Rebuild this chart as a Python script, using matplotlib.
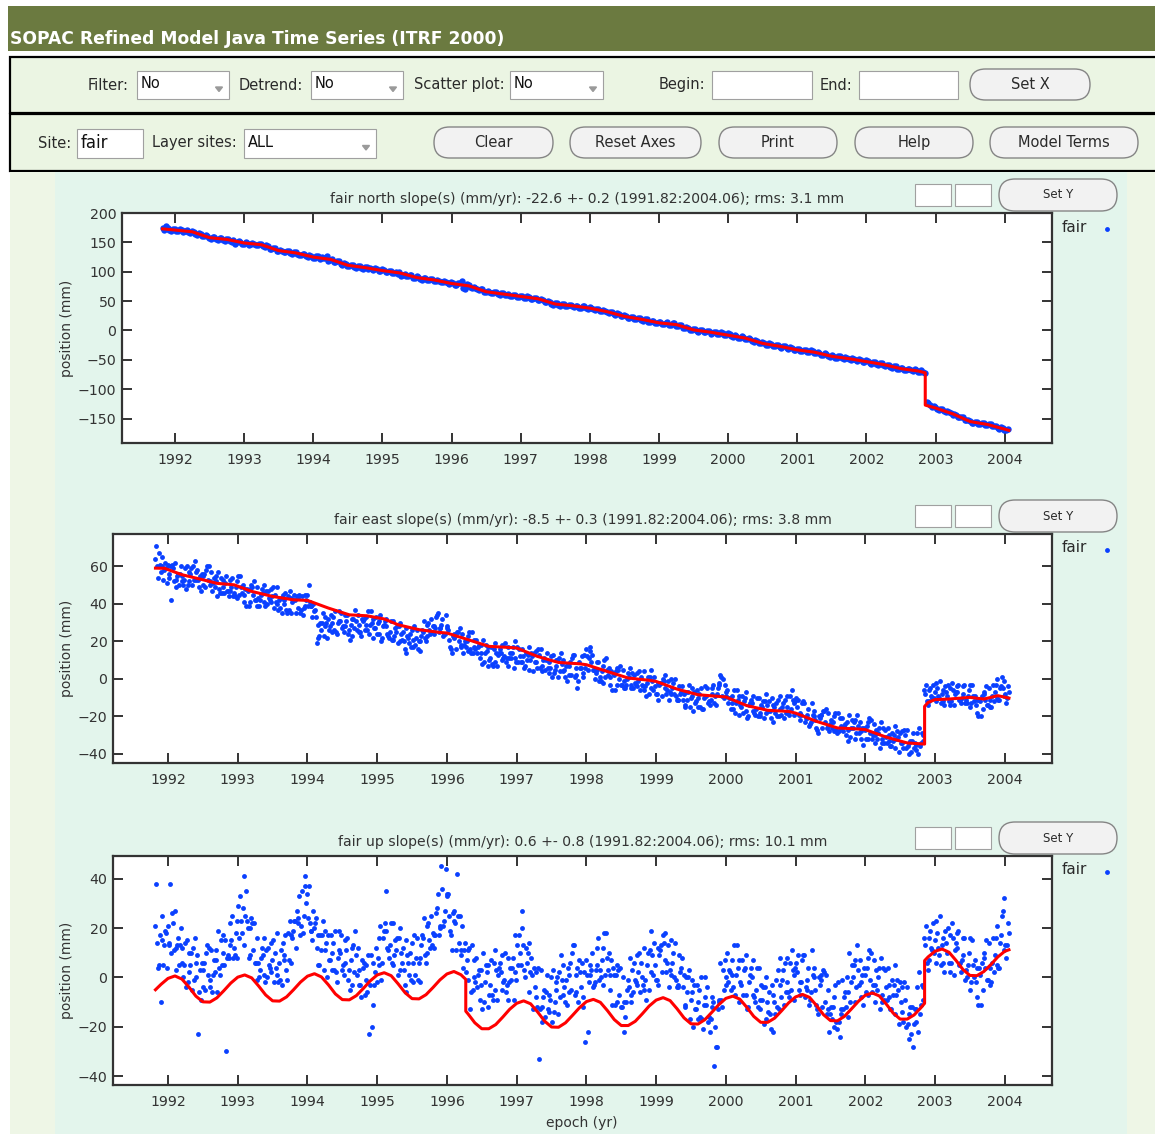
# SOPAC refined model time series for site "fair" (north / east / up)

import numpy as np
import matplotlib.pyplot as plt
from matplotlib.patches import Rectangle, FancyBboxPatch, Polygon

plt.rcParams['font.family'] = ['DejaVu Sans']

# -----------------------------
# Data
# -----------------------------

years = [1992, 1993, 1994, 1995, 1996, 1997, 1998, 1999, 2000, 2001, 2002, 2003, 2004]

# positions (mm), one value every 0.05 yr starting 1991.82 (each row = one year)
north_a = [
    175, 178, 171, 173, 170, 172, 168, 171, 166, 168, 163, 165, 160, 161, 156, 159, 154, 157, 153, 156,
    150, 148, 152, 148, 150, 146, 149, 145, 148, 144, 145, 139, 141, 135, 137, 133, 136, 132, 134, 130,
    128, 130, 125, 127, 123, 126, 125, 124, 118, 121, 116, 118, 112, 114, 109, 111, 107, 110, 105, 108,
    107, 103, 105, 101, 103, 99, 102, 98, 97, 93, 96, 92, 94, 89, 91, 86, 89, 86, 88, 84,
    85, 82, 83, 79, 81, 78, 80, 72, 79, 74, 74, 70, 71, 66, 67, 63, 66, 62, 64, 60,
    62, 59, 60, 57, 59, 55, 57, 54, 56, 52, 52, 48, 49, 44, 46, 42, 45, 41, 43, 40,
    42, 39, 41, 37, 39, 35, 36, 33, 34, 30, 31, 27, 28, 24, 25, 21, 23, 19, 21, 17,
    19, 15, 16, 12, 15, 11, 14, 10, 12, 8, 9, 4, 5, 1, 2, -3, 0, -3, -1, -5,
    -3, -6, -4, -8, -6, -11, -9, -13, -11, -15, -14, -19, -18, -22, -21, -25, -23, -27, -25, -29,
    -27, -31, -29, -34, -32, -35, -33, -37, -35, -39, -38, -42, -40, -45, -43, -46, -44, -48, -46, -50,
    -48, -52, -50, -54, -52, -57, -54, -58, -56, -60, -59, -63, -61, -66, -64, -67, -65, -69, -67, -71,
    -70, -121, -127, -129, -133, -133, -137, -137, -141, -142, -147, -147, -152, -152, -157, -155, -159, -157, -161, -159,
    -163, -162, -167, -166, -170,
]
north_b = [
    171, 174, 170, 172, 169, 171, 170, 167, 169, 165, 166, 161, 162, 157, 159, 155, 158, 154, 156, 152,
    154, 150, 151, 147, 149, 147, 148, 145, 147, 142, 143, 138, 140, 135, 136, 133, 135, 131, 133, 129,
    131, 126, 128, 124, 126, 122, 124, 127, 120, 117, 119, 113, 115, 110, 112, 108, 110, 106, 108, 104,
    104, 106, 102, 104, 100, 102, 98, 100, 99, 95, 93, 95, 90, 92, 88, 90, 86, 88, 85, 86,
    82, 84, 80, 82, 78, 80, 84, 70, 77, 72, 73, 69, 70, 65, 66, 63, 65, 61, 63, 60,
    59, 61, 57, 59, 56, 58, 54, 56, 52, 53, 49, 50, 45, 47, 43, 45, 42, 44, 41, 42,
    39, 41, 38, 40, 36, 37, 33, 35, 31, 32, 28, 29, 25, 26, 22, 23, 20, 21, 18, 19,
    15, 17, 13, 15, 11, 13, 10, 12, 8, 10, 5, 6, 1, 3, -1, 1, -3, -1, -6, -2,
    -6, -2, -8, -5, -10, -8, -12, -10, -14, -13, -18, -16, -21, -20, -24, -22, -26, -24, -28, -27,
    -30, -28, -33, -31, -35, -33, -36, -34, -38, -37, -41, -39, -44, -42, -46, -44, -47, -45, -49, -47,
    -51, -49, -53, -51, -55, -53, -57, -55, -59, -58, -62, -60, -65, -63, -67, -65, -68, -66, -70, -68,
    -73, -124, -131, -130, -135, -134, -139, -138, -143, -143, -148, -148, -153, -154, -157, -155, -159, -158, -161, -160,
    -162, -166, -165, -169, -168,
]

east_1 = [
    64, 67, 65, 59, 54, 59, 49, 56, 50, 60, 56, 53, 58, 47, 56, 53, 57, 49, 57, 46,
    51, 44, 54, 49, 45, 50, 39, 48, 45, 49, 42, 50, 40, 48, 38, 49, 43, 40, 44, 35,
    42, 38, 44, 39, 50, 33, 33, 23, 35, 30, 28, 33, 24, 31, 25, 34, 29, 27, 34, 23,
    26, 36, 30, 27, 31, 22, 28, 22, 31, 25, 20, 25, 14, 24, 21, 26, 20, 31, 23, 32,
    24, 35, 29, 24, 26, 14, 23, 20, 24, 17, 25, 14, 21, 11, 21, 15, 11, 16, 7, 14,
    12, 17, 11, 20, 9, 16, 7, 17, 12, 9, 13, 4, 10, 3, 13, 7, 4, 10, -1, 9,
    13, -5, 6, 13, 5, 9, 0, 9, 4, 1, 6, -6, 4, 0, 5, -3, 6, -5, 3, -6,
    4, -2, -5, 1, -11, -2, -5, -1, -8, 0, -11, -4, -14, -3, -9, -12, -8, -16, -9, -14,
    -3, -8, 2, -10, -6, -16, -6, -11, -15, -10, -20, -13, -19, -10, -15, -18, -12, -23, -13, -16,
    -13, -15, -9, -19, -15, -22, -13, -19, -23, -17, -29, -19, -23, -18, -26, -18, -28, -21, -30, -19,
    -26, -29, -23, -35, -25, -29, -24, -32, -23, -34, -26, -36, -25, -31, -34, -30, -40, -33, -38, -26,
    -33, -3, -12, -3, -12, -1, -6, -9, -5, -14, -7, -13, -3, -9, -13, -9, -20, -9, -11, -5,
    -9, -3, -11, -5, -13,
]
east_2 = [
    71, 61, 53, 51, 60, 52, 55, 60, 53, 50, 59, 63, 53, 56, 49, 60, 47, 52, 48, 53,
    55, 47, 44, 52, 55, 45, 48, 41, 52, 39, 45, 41, 47, 41, 45, 37, 35, 46, 37, 41,
    35, 45, 34, 42, 41, 40, 19, 30, 23, 22, 34, 26, 30, 35, 28, 24, 32, 37, 29, 32,
    33, 24, 22, 33, 24, 28, 32, 25, 21, 28, 30, 20, 23, 17, 28, 16, 23, 22, 30, 25,
    27, 25, 32, 34, 21, 23, 16, 27, 14, 20, 16, 21, 14, 18, 9, 7, 17, 9, 13, 18,
    19, 7, 14, 11, 16, 9, 14, 5, 4, 15, 6, 10, 14, 6, 3, 10, 14, 5, 8, 2,
    1, -1, 12, 6, 11, 13, 3, -1, 7, 11, 1, 3, -3, 7, -5, 0, -3, 2, -4, 1,
    -6, 1, 5, -4, -2, -9, 2, -11, -5, -9, -4, -11, -7, -15, -17, -6, -15, -10, -5, -11,
    -13, -5, 1, -3, -13, -9, -18, -19, -9, -17, -14, -9, -16, -20, -12, -8, -17, -14, -20, -9,
    -21, -9, -16, -13, -11, -19, -23, -16, -13, -22, -20, -26, -16, -28, -23, -27, -21, -28, -23, -31,
    -23, -19, -28, -26, -32, -22, -34, -29, -32, -27, -33, -29, -37, -39, -28, -37, -34, -29, -35, -36,
    -30, -12, -5, -10, -5, -13, -14, -3, -12, -8, -3, -10, -13, -6, -3, -14, -11, -16, -4, -15,
    -3, -10, -5, -1, -10,
]
east_3 = [
    60, 57, 58, 61, 42, 62, 56, 52, 59, 52, 50, 57, 49, 55, 58, 50, 51, 55, 46, 49,
    47, 53, 46, 43, 49, 41, 47, 50, 42, 43, 48, 39, 43, 44, 41, 42, 45, 37, 47, 42,
    44, 35, 38, 45, 39, 36, 29, 26, 28, 32, 25, 36, 31, 27, 34, 26, 23, 31, 25, 31,
    29, 29, 32, 24, 34, 29, 24, 31, 23, 19, 24, 16, 22, 26, 18, 20, 26, 20, 26, 28,
    33, 27, 23, 28, 17, 22, 25, 17, 18, 23, 14, 17, 17, 14, 14, 17, 8, 19, 14, 10,
    9, 11, 17, 9, 12, 12, 10, 10, 14, 6, 16, 11, 6, 12, 5, 1, 8, 1, 7, 11,
    6, 9, 3, 16, 17, 5, 9, 1, -2, 5, -3, 2, 6, -3, -1, 3, -5, -2, -1, -3,
    -4, -8, -1, -8, -3, 0, -8, -7, -2, -11, -8, -8, -11, -10, -7, -15, -5, -9, -13, -5,
    -9, -2, -9, -7, -10, -13, -13, -9, -18, -7, -13, -17, -10, -18, -21, -14, -21, -15, -11, -19,
    -11, -18, -6, -12, -19, -13, -21, -25, -19, -26, -21, -17, -26, -24, -20, -29, -25, -25, -27, -26,
    -32, -25, -32, -27, -23, -32, -30, -26, -34, -31, -30, -33, -32, -29, -37, -27, -33, -37, -29, -34,
    -6, -14, -9, -7, -9, -8, -4, -12, -2, -7, -11, -4, -11, -15, -9, -18, -12, -7, -14, -11,
    -12, 0, -4, -9, -4,
]
east_4 = [
    54, 60, 62, 56, 61, 53, 50, 55, 48, 57, 60, 53, 55, 50, 60, 52, 54, 44, 54, 46,
    47, 49, 44, 55, 46, 48, 39, 49, 42, 39, 46, 47, 42, 49, 40, 38, 42, 35, 43, 45,
    43, 37, 45, 39, 39, 37, 22, 30, 33, 26, 30, 25, 36, 28, 31, 21, 32, 26, 25, 32,
    26, 36, 27, 30, 20, 31, 23, 21, 27, 28, 21, 27, 19, 17, 22, 15, 25, 29, 24, 28,
    34, 27, 24, 27, 16, 24, 25, 18, 20, 15, 25, 16, 18, 8, 18, 10, 7, 14, 16, 11,
    11, 14, 6, 17, 9, 6, 13, 14, 9, 16, 7, 5, 9, 1, 10, 11, 4, 7, 2, 13,
    2, 6, 1, 12, 15, 5, 5, -1, 10, 2, 4, -6, 5, -3, -5, 1, 3, -3, 4, -4,
    -9, 1, -6, -8, -2, -1, -6, 0, -8, -11, -7, -15, -7, -5, -13, -10, -16, -4, -12, -8,
    -14, -3, 0, -9, -10, -16, -6, -14, -12, -21, -11, -18, -20, -14, -12, -17, -10, -18, -20, -15,
    -18, -19, -11, -10, -18, -12, -21, -24, -20, -27, -19, -17, -25, -22, -28, -18, -26, -24, -33, -22,
    -22, -29, -26, -32, -21, -30, -27, -37, -26, -34, -36, -30, -28, -34, -27, -36, -39, -34, -40, -29,
    -8, -6, -10, -2, -10, -12, -7, -14, -6, -4, -11, -8, -13, -3, -12, -11, -20, -8, -14, -15,
    -7, -11, 1, -8, -7,
]

up_1 = [
    21, 5, 25, 18, 14, 22, 3, 13, 0, 15, 5, -1, 9, -9, 6, 1, 11, 2, 19, 5,
    15, 8, 25, 18, 16, 28, 35, 20, 11, 16, 3, 16, 0, 14, -2, 18, 11, 7, 18, 6,
    23, 22, 35, 41, 37, 15, 24, 5, 23, 14, 7, 14, -2, 10, 1, 16, 7, 2, 12, -8,
    -7, 9, -20, 2, 16, 6, 19, 8, 22, 11, 3, 12, -6, 10, 6, 16, 8, 24, 10, 25,
    12, 34, 45, 27, 34, 11, 22, 14, 21, 2, 12, -5, 8, -9, 10, 2, -3, 6, -9, 2,
    -1, 8, -1, 17, 5, 20, 0, 14, 1, -8, -33, -18, -6, -14, 3, -5, -8, 5, -11, 6,
    13, 4, -4, 2, -22, 3, -2, 16, 7, 1, 10, -11, 1, -7, 0, -10, 8, -6, 9, -6,
    12, 5, 2, 14, -3, 13, 7, 13, 1, 14, -3, 8, -12, 3, -6, -13, -5, -21, -11, -22,
    -10, -28, 6, -5, 10, -5, 13, 4, -3, 4, -12, 0, -10, 4, -9, -17, -6, -22, -1, -3,
    3, -2, 6, -9, 2, -7, 9, -1, -6, 4, -15, -1, -10, -5, -17, -3, -18, -1, -12, 10,
    0, -4, 7, -11, 4, -1, 7, -5, 8, -9, 4, -13, 5, -5, -14, -9, -25, -12, -18, 2,
    -9, 21, 7, 22, 6, 25, 16, 10, 17, 1, 12, 2, 16, 5, -2, 7, -11, 6, 4, 14,
    6, 16, 4, 27, 8,
]
up_2 = [
    38, 17, 5, 4, 38, 11, 13, 20, 5, -2, 10, 16, -23, 6, -5, 12, -6, 7, 4, 17,
    -30, 13, 8, 23, 33, 41, 23, 9, 22, -1, 8, 1, 12, 2, 10, -2, -3, 17, 7, 16,
    12, 33, 18, 30, 22, 27, 12, 17, 3, 0, 17, 3, 8, 17, 6, -1, 12, 19, 3, 7,
    5, -23, -11, 12, 5, 16, 35, 13, 5, 16, 20, 3, 9, -1, 17, -1, 13, 9, 22, 13,
    17, 17, 36, 44, 25, 26, 11, 25, 4, 7, -13, 7, -4, 3, -10, -12, 7, -5, 1, 9,
    10, -9, 4, 2, 17, 27, 12, -6, -13, 2, -13, -8, 1, -9, -14, 0, 9, -4, 4, -5,
    -7, -10, 6, -26, -2, 10, 3, -1, 12, 18, 1, 4, -10, 4, -22, -5, -7, 6, -3, 6,
    -5, 10, 19, 5, 12, 2, 18, -4, 6, -1, 9, -4, 0, -17, -20, -3, -16, -11, -4, -17,
    -36, -13, -9, 7, -2, 7, -7, -10, 7, -7, -2, 7, -5, -13, -4, 0, -15, -7, -12, 8,
    -11, 8, -5, 1, 9, -2, -8, 4, 11, -5, 0, -12, 1, -22, -12, -18, -24, -13, 0, -10,
    5, 13, -2, 4, -7, 10, -10, 0, -7, 3, -8, -1, -15, -19, -4, -20, -15, -28, -13, -15,
    -4, 6, 19, 10, 18, 5, 2, 20, 6, 11, 19, 7, -1, 10, 15, -2, 4, -5, 15, -3,
    16, 5, 14, 32, 13,
]
up_3 = [
    14, -10, 13, 21, 10, 27, 16, 6, 14, 2, -5, 6, -6, 3, 10, -4, 1, 11, 1, 10,
    8, 22, 12, 8, 23, 13, 20, 24, 6, 6, 12, -2, 5, 7, 4, 6, 14, 3, 23, 19,
    27, 17, 25, 34, 19, 20, 17, 11, 11, 17, 3, 19, 11, 3, 15, 3, -3, 9, -3, 4,
    -1, -3, 6, -2, 21, 19, 12, 22, 9, 1, 10, -3, 6, 14, 1, 6, 17, 6, 15, 18,
    26, 21, 21, 34, 19, 23, 42, 9, 11, 11, -6, 0, 1, -3, -2, 5, -7, 11, 4, -5,
    -6, -2, 8, -1, 10, 13, 6, 2, 4, -12, 3, -5, -13, 0, -10, -15, -1, -10, 1, 10,
    1, 7, -8, 7, 1, -4, 12, 3, -3, 8, -5, 1, 5, -12, -10, -1, -10, -1, 2, 0,
    -1, -5, 9, -1, 9, 17, 2, 3, 10, -4, 2, 1, -6, -9, -3, -17, 0, -8, -18, -8,
    -20, -9, -12, 0, 3, 1, 1, 7, -7, 9, 1, -7, 4, -9, -19, -10, -21, -10, 3, -8,
    6, -6, 11, 4, -5, 7, -4, -11, 1, -11, -3, 3, -15, -15, -8, -21, -13, -8, -6, -2,
    -10, 3, -8, 1, 8, -6, -3, 4, -10, -4, -3, -7, -7, -2, -18, -4, -12, -19, -4, -11,
    16, 3, 12, 15, 12, 13, 19, 6, 22, 14, 5, 16, 3, -5, 5, -8, 1, 10, -1, 4,
    2, 21, 17, 11, 22,
]
up_4 = [
    4, 15, 19, 13, 26, 12, 5, 12, -4, 10, 12, 0, 3, -4, 13, -1, 7, -6, 15, 5,
    9, 15, 9, 29, 18, 25, 8, 22, 6, 0, 9, 11, 4, 15, 1, -1, 9, -1, 17, 23,
    24, 21, 37, 24, 19, 22, 5, 17, 19, 7, 10, 2, 19, 5, 11, -5, 13, 1, -3, 6,
    -6, 9, -3, 8, -1, 22, 11, 6, 15, 16, 6, 15, 1, -2, 8, -2, 16, 21, 12, 17,
    28, 20, 23, 33, 17, 27, 25, 11, 14, -1, 13, -2, 3, -13, 5, -7, -9, 3, 6, -2,
    -3, 4, -9, 13, 5, 3, 10, 8, -4, 4, -12, -16, -7, -18, -2, 2, -7, -1, -6, 13,
    -6, 2, -12, 1, 5, -3, 5, 0, 18, 3, 7, -11, 3, -12, -16, -4, 3, -2, 10, -3,
    -9, 11, 1, -1, 11, 14, 6, 15, 0, -4, 4, -11, 0, -1, -13, -10, -17, 0, -16, -12,
    -28, -10, 3, -3, 2, -4, 13, -2, 3, -13, 4, -8, -12, -3, -4, -14, -3, -15, -13, -1,
    -6, -8, 3, 6, -2, 9, -5, -9, 0, -13, 1, 2, -13, -12, -20, -2, -15, -6, -16, 5,
    7, -3, 1, -6, 11, -3, 3, -13, 4, -9, -13, -3, -1, -10, -2, -19, -23, -13, -22, -3,
    13, 16, 11, 23, 9, 6, 14, 2, 16, 18, 6, 9, 0, 16, 0, 4, -11, 8, -1, -2,
    9, 4, 25, 13, 18,
]

# model curves (red)
north_model_t = [1991.82, 1992.0, 1992.25, 1992.5, 1992.75, 1993.0, 1993.25, 1993.5, 1993.75,
                 1994.0, 1994.25, 1994.5, 1994.75, 1995.0, 1995.25, 1995.5, 1995.75, 1996.0,
                 1996.25, 1996.5, 1996.75, 1997.0, 1997.25, 1997.5, 1997.75, 1998.0, 1998.25,
                 1998.5, 1998.75, 1999.0, 1999.25, 1999.5, 1999.75, 2000.0, 2000.25, 2000.5,
                 2000.75, 2001.0, 2001.25, 2001.5, 2001.75, 2002.0, 2002.25, 2002.5, 2002.75,
                 2002.85, 2002.85, 2003.0, 2003.25, 2003.5, 2003.75, 2004.0, 2004.06]
north_model_v = [173, 171, 168, 158, 155, 149, 146, 136, 132,
                 125, 121, 111, 107, 102, 98, 90, 86, 80,
                 76, 66, 62, 58, 54, 45, 42, 38, 32,
                 24, 19, 13, 10, 1, -3, -8, -13, -22,
                 -27, -33, -37, -44, -48, -53, -58, -65, -69,
                 -72, -127, -132, -142, -155, -160, -168, -170]

east_model_t = [1991.82, 1991.95, 1992.2, 1992.5, 1992.7, 1992.95, 1993.2, 1993.5, 1993.8,
                1994.0, 1994.3, 1994.6, 1994.85, 1995.1, 1995.3, 1995.6, 1995.9, 1996.0,
                1996.3, 1996.6, 1996.9, 1997.0, 1997.3, 1997.6, 1997.9, 1998.0, 1998.3,
                1998.6, 1998.9, 1999.0, 1999.3, 1999.6, 1999.9, 2000.0, 2000.3, 2000.6,
                2000.9, 2001.0, 2001.3, 2001.6, 2001.9, 2002.0, 2002.3, 2002.6, 2002.85,
                2002.85, 2002.9, 2003.0, 2003.2, 2003.5, 2003.7, 2003.9, 2004.06]
east_model_v = [59.1, 59.0, 55.6, 52.9, 51.0, 50.2, 46.7, 44.0, 42.2,
                41.9, 37.8, 34.2, 33.7, 32.0, 28.9, 26.3, 24.8, 24.5,
                21.0, 17.4, 16.8, 16.5, 12.0, 8.8, 8.1, 7.6, 4.0,
                0.5, -0.7, -1.3, -5.4, -8.4, -9.3, -9.6, -14.2, -16.7,
                -17.3, -18.2, -22.6, -26.1, -26.7, -27.0, -31.0, -34.1, -34.7,
                -14.6, -12.5, -11.0, -10.7, -9.8, -10.7, -8.9, -10.2]

up_model_t = [1991.82, 1991.9, 1992.0, 1992.1, 1992.2, 1992.3, 1992.4, 1992.5, 1992.6, 1992.7,
              1992.8, 1992.9, 1993.0, 1993.1, 1993.2, 1993.3, 1993.4, 1993.5, 1993.6, 1993.7,
              1993.8, 1993.9, 1994.0, 1994.1, 1994.2, 1994.3, 1994.4, 1994.5, 1994.6, 1994.7,
              1994.8, 1994.9, 1995.0, 1995.1, 1995.2, 1995.3, 1995.4, 1995.5, 1995.6, 1995.7,
              1995.8, 1995.9, 1996.0, 1996.1, 1996.2, 1996.27,
              1996.27, 1996.3, 1996.4, 1996.5, 1996.6, 1996.7, 1996.8, 1996.9,
              1997.0, 1997.1, 1997.2, 1997.3, 1997.4, 1997.5, 1997.6, 1997.7, 1997.8, 1997.9,
              1998.0, 1998.1, 1998.2, 1998.3, 1998.4, 1998.5, 1998.6, 1998.7, 1998.8, 1998.9,
              1999.0, 1999.1, 1999.2, 1999.3, 1999.4, 1999.5, 1999.6, 1999.7, 1999.8, 1999.9,
              2000.0, 2000.1, 2000.2, 2000.3, 2000.4, 2000.5, 2000.6, 2000.7, 2000.8, 2000.9,
              2001.0, 2001.1, 2001.2, 2001.3, 2001.4, 2001.5, 2001.6, 2001.7, 2001.8, 2001.9,
              2002.0, 2002.1, 2002.2, 2002.3, 2002.4, 2002.5, 2002.6, 2002.7, 2002.8, 2002.85,
              2002.85, 2002.9, 2003.0, 2003.1, 2003.2, 2003.3, 2003.4, 2003.5, 2003.6, 2003.7,
              2003.8, 2003.9, 2004.0, 2004.06]
up_model_v = [-5.0, -2.8, -0.4, 0.6, -0.7, -3.9, -7.6, -9.9, -10.0, -8.3,
              -5.4, -2.3, 0.1, 1.0, -0.2, -3.5, -7.1, -9.5, -9.6, -7.9,
              -5.0, -1.9, 0.5, 1.5, 0.2, -3.0, -6.7, -9.0, -9.1, -7.4,
              -4.5, -1.4, 1.0, 1.9, 0.7, -2.6, -6.2, -8.6, -8.7, -7.0,
              -4.1, -1.0, 1.4, 2.4, 1.1, -0.8,
              -13.7, -14.7, -18.4, -20.8, -20.8, -19.1, -16.1, -12.9,
              -10.5, -9.5, -10.7, -14.0, -17.7, -20.1, -20.2, -18.4, -15.4, -12.3,
              -9.8, -8.9, -10.1, -13.4, -17.1, -19.5, -19.5, -17.8, -14.8, -11.6,
              -9.2, -8.2, -9.4, -12.7, -16.4, -18.8, -18.9, -17.1, -14.1, -11.0,
              -8.5, -7.6, -8.8, -12.1, -15.8, -18.2, -18.2, -16.5, -13.5, -10.3,
              -7.9, -6.9, -8.1, -11.4, -15.1, -17.5, -17.6, -15.8, -12.8, -9.7,
              -7.2, -6.3, -7.5, -10.8, -14.5, -16.9, -16.9, -15.2, -12.2, -10.5,
              6.8, 8.3, 10.6, 11.5, 10.2, 6.9, 3.2, 0.8, 0.7, 2.4,
              5.2, 8.3, 10.6, 11.2]

north_title = "fair north slope(s) (mm/yr): -22.6 +- 0.2 (1991.82:2004.06); rms: 3.1 mm"
east_title = "fair east slope(s) (mm/yr): -8.5 +- 0.3 (1991.82:2004.06); rms: 3.8 mm"
up_title = "fair up slope(s) (mm/yr): 0.6 +- 0.8 (1991.82:2004.06); rms: 10.1 mm"

# -----------------------------
# Colours / figure
# -----------------------------

GREEN = '#6b7a40'
PANEL = '#ebf5e3'
MINT = '#e3f5ec'
SIDE = '#eef6e6'
BLUE = '#0a40ff'
RED = '#ff0000'
INK = '#2a2a2a'

W, H = 1155, 1134
fig = plt.figure(figsize=(W / 100, H / 100), dpi=100)
fig.patch.set_facecolor('white')

bg = fig.add_axes([0, 0, 1, 1])
bg.set_xlim(0, W)
bg.set_ylim(H, 0)
bg.axis('off')


def rect(x0, y0, x1, y1, fc, ec='none', lw=0, z=1):
    bg.add_patch(Rectangle((x0, y0), x1 - x0, y1 - y0, facecolor=fc,
                           edgecolor=ec, linewidth=lw, zorder=z))


def label(x, y, s, fs=10.5):
    bg.text(x, y, s, ha='right', va='center', fontsize=fs, color=INK, zorder=3)


def field(x0, y0, x1, y1, s='', fs=10.5, arrow=False):
    rect(x0, y0, x1, y1, 'white', '#a0a0a0', 0.8, z=2)
    if s:
        bg.text(x0 + 4, (y0 + y1) / 2 - 1, s, ha='left', va='center',
                fontsize=fs, color='#111111', zorder=3)
    if arrow:
        cx, cy = x1 - 10, (y0 + y1) / 2 + 4
        bg.add_patch(Polygon([(cx - 3.5, cy - 2), (cx + 3.5, cy - 2), (cx, cy + 2.5)],
                             closed=True, color='#9a9a9a', zorder=3))


def pill(x0, y0, x1, y1, s, fs=10.5):
    h = y1 - y0
    bg.add_patch(FancyBboxPatch((x0, y0), x1 - x0, h,
                                boxstyle='round,pad=0,rounding_size=%g' % (h / 2),
                                facecolor='#f2f2f2', edgecolor='#858585',
                                linewidth=1.0, zorder=2))
    bg.text((x0 + x1) / 2, (y0 + y1) / 2, s, ha='center', va='center',
            fontsize=fs, color=INK, zorder=3)


# header and control rows
rect(8, 6, W, 51, GREEN)
bg.text(10, 39.5, 'SOPAC Refined Model Java Time Series (ITRF 2000)', color='white',
        fontsize=12.3, fontweight='bold', ha='left', va='center')

rect(10, 57, W + 5, 113, PANEL, 'black', 1.6)
rect(10, 114, W + 5, 171, PANEL, 'black', 1.6)
rect(10, 172, 55, H, SIDE)
rect(55, 172, 1127, H, MINT)
rect(1127, 172, W, H, SIDE)

label(129, 85, 'Filter:')
field(137, 71, 229, 99, 'No', arrow=True)
label(303, 85, 'Detrend:')
field(311, 71, 403, 99, 'No', arrow=True)
label(505, 85, 'Scatter plot:')
field(510, 71, 603, 99, 'No', arrow=True)
label(705, 85, 'Begin:')
field(712, 71, 812, 99)
label(852, 85, 'End:')
field(859, 71, 958, 99)
pill(970, 69, 1090, 100, 'Set X')

label(71, 143, 'Site:')
field(77, 129, 143, 158, 'fair', fs=12)
label(237, 143, 'Layer sites:')
field(244, 129, 376, 158, 'ALL', arrow=True)
for x0, x1, s in [(434, 553, 'Clear'), (570, 701, 'Reset Axes'), (719, 837, 'Print'),
                  (855, 973, 'Help'), (990, 1138, 'Model Terms')]:
    pill(x0, 127, x1, 158, s)

# -----------------------------
# Time-series panels
# -----------------------------

t_blue = 1991.82 + 0.05 * np.arange(len(north_a))

panels = [
    dict(box=(122, 213, 1052, 443), xlim=(1991.234, 2004.683), ylim=(-191.5, 200),
         yticks=[-150, -100, -50, 0, 50, 100, 150, 200], ms=4.6,
         series=[(t_blue, north_a), (t_blue + 0.025, north_b)],
         model=(north_model_t, north_model_v), title=north_title),
    dict(box=(113, 534, 1052, 763), xlim=(1991.211, 2004.677), ylim=(-44.8, 77.3),
         yticks=[-40, -20, 0, 20, 40, 60], ms=3.5,
         series=[(t_blue, east_1), (t_blue + 0.0125, east_2),
                 (t_blue + 0.025, east_3), (t_blue + 0.0375, east_4)],
         model=(east_model_t, east_model_v), title=east_title),
    dict(box=(113, 856, 1052, 1085), xlim=(1991.211, 2004.677), ylim=(-43.6, 49.2),
         yticks=[-40, -20, 0, 20, 40], ms=3.5,
         series=[(t_blue, up_1), (t_blue + 0.0125, up_2),
                 (t_blue + 0.025, up_3), (t_blue + 0.0375, up_4)],
         model=(up_model_t, up_model_v), title=up_title),
]

for p in panels:
    x0, y0, x1, y1 = p['box']
    ax = fig.add_axes([x0 / W, 1 - y1 / H, (x1 - x0) / W, (y1 - y0) / H])
    ax.set_facecolor('white')
    for t, v in p['series']:
        ax.plot(t, v, 'o', ms=p['ms'], mew=0, color=BLUE, zorder=2)
    ax.plot(p['model'][0], p['model'][1], '-', lw=2.2, color=RED, zorder=3)
    ax.set_xlim(p['xlim'])
    ax.set_ylim(p['ylim'])
    ax.set_xticks(years)
    ax.set_yticks(p['yticks'])
    ax.tick_params(direction='in', length=7, width=1.4, top=True, right=True,
                   labelsize=10.2, colors='#333333')
    ax.tick_params(axis='x', pad=7)
    ax.tick_params(axis='y', pad=4)
    for s in ax.spines.values():
        s.set_linewidth(1.6)
        s.set_color('#333333')

    # title, y label, legend and the Set Y controls
    bg.text((x0 + x1) / 2, y0 - 14, p['title'], ha='center', va='center',
            fontsize=10.1, color='#333333')
    bg.text(67, (y0 + y1) / 2, 'position (mm)', rotation=90, ha='center',
            va='center', fontsize=10, color='#333333')
    bg.text(1062, y0 + 14, 'fair', ha='left', va='center', fontsize=11, color=INK)
    bg.plot([1107], [y0 + 16], 'o', ms=3.5, mew=0, color=BLUE)
    field(915, y0 - 29, 951, y0 - 7)
    field(955, y0 - 29, 991, y0 - 7)
    pill(999, y0 - 34, 1117, y0 - 2, 'Set Y', fs=8.5)

bg.text(582, 1123, 'epoch (yr)', ha='center', va='center', fontsize=10, color='#333333')

fig.savefig('out.png', dpi=100, facecolor=fig.get_facecolor())
